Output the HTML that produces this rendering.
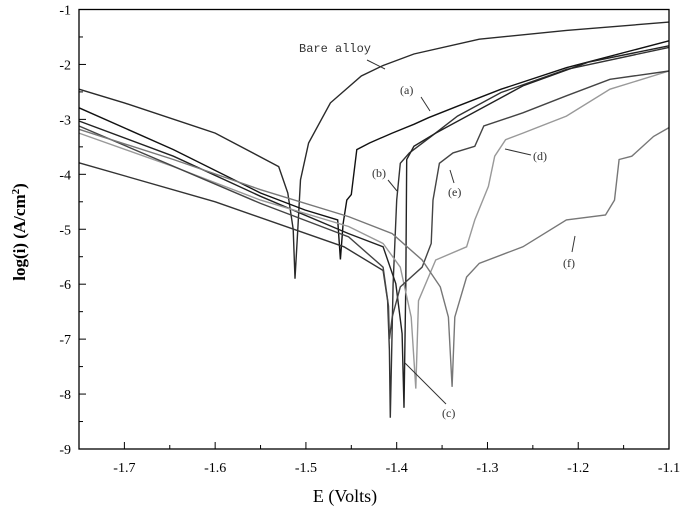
<!DOCTYPE html>
<html><head><meta charset="utf-8">
<style>
html,body{margin:0;padding:0;background:#fff;}
svg{display:block;font-family:"Liberation Serif",serif;}
</style></head>
<body>
<svg id="chart" width="683" height="514" viewBox="0 0 683 514">
<g id="marks"></g>
<g id="axes"></g>
<text x="345" y="502" font-size="18" text-anchor="middle">E (Volts)</text>
<text transform="translate(25,232) rotate(-90)" font-size="17" font-weight="bold" text-anchor="middle">log(i) (A/cm<tspan dy="-6" font-size="11">2</tspan><tspan dy="6">)</tspan></text>
<g font-size="12" fill="#333" stroke="none">
<text x="299" y="52" font-family="Liberation Mono,monospace" font-size="12">Bare alloy</text>
<text x="400" y="94">(a)</text>
<text x="372" y="177">(b)</text>
<text x="442" y="417">(c)</text>
<text x="533" y="160">(d)</text>
<text x="448" y="196">(e)</text>
<text x="563" y="267">(f)</text>
</g>
<g stroke="#333" stroke-width="1" fill="none">
<line x1="367" y1="60" x2="385" y2="69"/>
<line x1="421" y1="97" x2="430" y2="111"/>
<line x1="388" y1="180" x2="397" y2="191"/>
<line x1="405" y1="363" x2="446" y2="404"/>
<line x1="505" y1="149" x2="531" y2="155"/>
<line x1="454" y1="183" x2="450" y2="170"/>
<line x1="572" y1="252" x2="575" y2="236"/>
</g>
</svg>
<script>
const xTicks=[-1.7,-1.6,-1.5,-1.4,-1.3,-1.2,-1.1];
const yTicks=[-1,-2,-3,-4,-5,-6,-7,-8,-9];
const seriesNames=["bare","a","b","c","d","e","f"];
const bareE=[-1.75,-1.7,-1.6,-1.53,-1.52,-1.514,-1.512,-1.509,-1.506,-1.497,-1.473,-1.439,-1.415,-1.381,-1.309,-1.213,-1.1];
const bareV=[-2.45,-2.70,-3.25,-3.86,-4.34,-5.0,-5.9,-5.0,-4.1,-3.43,-2.70,-2.21,-2.02,-1.81,-1.54,-1.38,-1.23];
const aE=[-1.75,-1.646,-1.55,-1.501,-1.465,-1.462,-1.459,-1.455,-1.45,-1.444,-1.43,-1.405,-1.381,-1.365,-1.333,-1.285,-1.213,-1.1];
const aV=[-2.79,-3.55,-4.34,-4.65,-4.83,-5.55,-4.9,-4.47,-4.37,-3.55,-3.43,-3.25,-3.09,-2.97,-2.76,-2.45,-2.06,-1.57];
const bE=[-1.75,-1.6,-1.458,-1.415,-1.41,-1.408,-1.407,-1.404,-1.40,-1.396,-1.386,-1.362,-1.333,-1.285,-1.213,-1.1];
const bV=[-3.79,-4.5,-5.32,-5.75,-6.3,-7.2,-8.43,-6.0,-4.47,-3.80,-3.61,-3.31,-2.94,-2.51,-2.09,-1.69];
const cE=[-1.75,-1.646,-1.55,-1.453,-1.415,-1.401,-1.394,-1.392,-1.390,-1.389,-1.381,-1.357,-1.309,-1.261,-1.189,-1.1];
const cV=[-3.03,-3.67,-4.40,-5.08,-5.32,-5.99,-6.9,-8.25,-6.0,-3.73,-3.49,-3.25,-2.82,-2.39,-1.96,-1.66];
const dE=[-1.75,-1.646,-1.55,-1.453,-1.415,-1.396,-1.384,-1.379,-1.376,-1.357,-1.323,-1.314,-1.299,-1.292,-1.28,-1.261,-1.213,-1.165,-1.1];
const dV=[-3.25,-3.86,-4.47,-4.95,-5.26,-5.69,-6.6,-7.9,-6.30,-5.56,-5.32,-4.83,-4.22,-3.67,-3.37,-3.25,-2.94,-2.45,-2.12];
const eE=[-1.75,-1.55,-1.453,-1.415,-1.409,-1.408,-1.405,-1.396,-1.372,-1.362,-1.36,-1.353,-1.338,-1.314,-1.304,-1.261,-1.213,-1.165,-1.1];
const eV=[-3.12,-4.53,-5.14,-5.69,-6.4,-7.0,-6.6,-6.05,-5.69,-5.26,-4.47,-3.80,-3.61,-3.49,-3.12,-2.88,-2.57,-2.27,-2.12];
const fE=[-1.75,-1.646,-1.55,-1.453,-1.405,-1.372,-1.352,-1.343,-1.339,-1.336,-1.323,-1.309,-1.261,-1.213,-1.170,-1.16,-1.155,-1.141,-1.117,-1.1];
const fV=[-3.18,-3.73,-4.28,-4.77,-5.08,-5.56,-6.05,-6.6,-7.87,-6.6,-5.87,-5.62,-5.32,-4.83,-4.74,-4.47,-3.73,-3.67,-3.31,-3.15];
const seriesE=[bareE,aE,bE,cE,dE,eE,fE];
const seriesV=[bareV,aV,bV,cV,dV,eV,fV];
const colors=["#2a2a2a","#111","#333","#222","#999","#444","#777"];

const X0=79,X1=669,Y0=9.5,Y1=449;
function xs(e){return X0+(e+1.75)/0.65*(X1-X0);}
function ys(v){return Y0+(-1-v)/8*(Y1-Y0);}
const NS="http://www.w3.org/2000/svg";
const marks=document.getElementById('marks');
const axes=document.getElementById('axes');
for(let s=0;s<seriesNames.length;s++){
  const p=document.createElementNS(NS,'path');
  let d='';
  for(let i=0;i<seriesE[s].length;i++){d+=(i?'L':'M')+xs(seriesE[s][i]).toFixed(1)+' '+ys(seriesV[s][i]).toFixed(1);}
  p.setAttribute('d',d);
  p.setAttribute('fill','none');
  p.setAttribute('stroke',colors[s]);
  p.setAttribute('stroke-width','1.4');
  
  
  marks.appendChild(p);
}
const frame=document.createElementNS(NS,'rect');
frame.setAttribute('x',X0);frame.setAttribute('y',Y0);
frame.setAttribute('width',X1-X0);frame.setAttribute('height',Y1-Y0);
frame.setAttribute('fill','none');frame.setAttribute('stroke','#000');frame.setAttribute('stroke-width','1.3');


axes.appendChild(frame);
for(let i=0;i<xTicks.length;i++){
  const x=xs(xTicks[i]);
  const t=document.createElementNS(NS,'line');
  t.setAttribute('x1',x);t.setAttribute('x2',x);t.setAttribute('y1',Y1);t.setAttribute('y2',Y1-7);
  t.setAttribute('stroke','#000');
  
  
  axes.appendChild(t);
  const m=document.createElementNS(NS,'line');
  const xm=xs(xTicks[i]-0.05);
  m.setAttribute('x1',xm);m.setAttribute('x2',xm);m.setAttribute('y1',Y1);m.setAttribute('y2',Y1-4);
  m.setAttribute('stroke','#000');
  
  
  axes.appendChild(m);
  const l=document.createElementNS(NS,'text');
  l.setAttribute('x',x);l.setAttribute('y',Y1+23);l.setAttribute('font-size','14');l.setAttribute('text-anchor','middle');
  l.textContent=xTicks[i].toFixed(1);
  
  
  axes.appendChild(l);
}
for(let i=0;i<yTicks.length;i++){
  const y=ys(yTicks[i]);
  const t=document.createElementNS(NS,'line');
  t.setAttribute('x1',X0);t.setAttribute('x2',X0+7);t.setAttribute('y1',y);t.setAttribute('y2',y);
  t.setAttribute('stroke','#000');
  
  
  axes.appendChild(t);
  if(i<yTicks.length-1){
    const m=document.createElementNS(NS,'line');
    const ym=ys(yTicks[i]-0.5);
    m.setAttribute('x1',X0);m.setAttribute('x2',X0+4);m.setAttribute('y1',ym);m.setAttribute('y2',ym);
    m.setAttribute('stroke','#000');
    
    
    axes.appendChild(m);
  }
  const l=document.createElementNS(NS,'text');
  l.setAttribute('x',X0-8);l.setAttribute('y',y+5);l.setAttribute('font-size','14');l.setAttribute('text-anchor','end');
  l.textContent=yTicks[i];
  
  
  axes.appendChild(l);
}
</script>
</body></html>
